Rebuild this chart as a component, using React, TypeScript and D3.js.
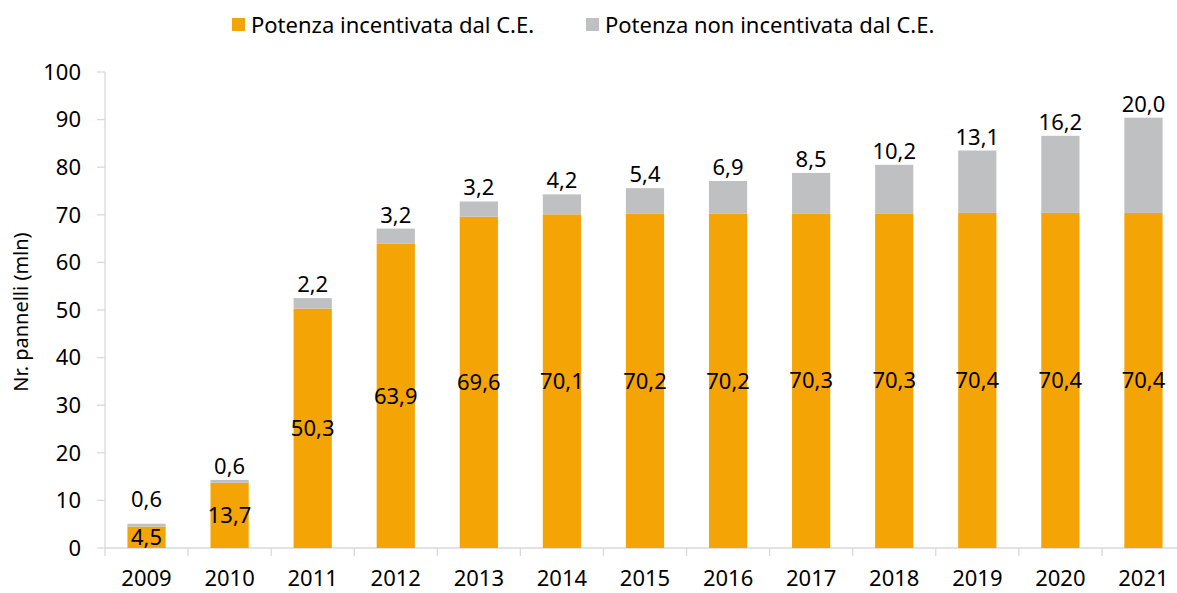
import React, { useEffect, useRef } from 'react';
import * as d3 from 'd3';

const years = ['2009', '2010', '2011', '2012', '2013', '2014', '2015', '2016', '2017', '2018', '2019', '2020', '2021'];
const incentivata = [4.5, 13.7, 50.3, 63.9, 69.6, 70.1, 70.2, 70.2, 70.3, 70.3, 70.4, 70.4, 70.4];
const nonIncentivata = [0.6, 0.6, 2.2, 3.2, 3.2, 4.2, 5.4, 6.9, 8.5, 10.2, 13.1, 16.2, 20.0];
const yTicks = [0, 10, 20, 30, 40, 50, 60, 70, 80, 90, 100];
const legendLabels = ['Potenza incentivata dal C.E.', 'Potenza non incentivata dal C.E.'];

const ORANGE = '#F4A404';
const GREY = '#BFC0C2';
const AXIS = '#D9D9D9';
const FONT = '"Noto Sans", sans-serif';

const App = () => {
  const width = 1177,
    height = 593,
    margin = { left: 105, top: 72, bottom: 45, right: -8 };

  const svgRef = useRef(null);

  useEffect(() => {
    const svg = d3.select(svgRef.current);
    svg.selectAll('*').remove();

    const x = d3.scaleBand()
      .domain(years)
      .range([margin.left, width - margin.right])
      .paddingInner(0.54)
      .paddingOuter(0.27);
    const y = d3.scaleLinear()
      .domain([0, 100])
      .range([height - margin.bottom, margin.top]);

    const step = x.step();
    const x0 = margin.left;

    // axes
    const axes = svg.append('g').attr('stroke', AXIS).attr('stroke-width', 1.3);
    axes.append('line')
      .attr('x1', x0).attr('x2', x0)
      .attr('y1', y(100)).attr('y2', y(0));
    axes.selectAll('.yt')
      .data(yTicks)
      .join('line')
      .attr('x1', x0 - 8).attr('x2', x0)
      .attr('y1', d => y(d)).attr('y2', d => y(d));
    axes.append('line')
      .attr('x1', x0).attr('x2', width)
      .attr('y1', y(0)).attr('y2', y(0));
    axes.selectAll('.xt')
      .data(d3.range(years.length + 1))
      .join('line')
      .attr('x1', i => x0 + i * step).attr('x2', i => x0 + i * step)
      .attr('y1', y(0)).attr('y2', y(0) + 8);

    // bars
    const bars = svg.append('g');
    bars.selectAll('.inc')
      .data(years)
      .join('rect')
      .attr('x', d => x(d))
      .attr('width', x.bandwidth())
      .attr('y', (d, i) => y(incentivata[i]))
      .attr('height', (d, i) => y(0) - y(incentivata[i]))
      .attr('fill', ORANGE);
    bars.selectAll('.non')
      .data(years)
      .join('rect')
      .attr('x', d => x(d))
      .attr('width', x.bandwidth())
      .attr('y', (d, i) => y(incentivata[i] + nonIncentivata[i]))
      .attr('height', (d, i) => y(incentivata[i]) - y(incentivata[i] + nonIncentivata[i]))
      .attr('fill', GREY);

    const text = svg.append('g')
      .attr('font-family', FONT)
      .attr('font-size', 22)
      .attr('fill', '#000');

    text.selectAll('.ylab')
      .data(yTicks)
      .join('text')
      .attr('x', x0 - 24)
      .attr('y', d => y(d))
      .attr('dy', '0.35em')
      .attr('text-anchor', 'end')
      .text(d => d);

    text.selectAll('.xlab')
      .data(years)
      .join('text')
      .attr('x', d => x(d) + x.bandwidth() / 2)
      .attr('y', y(0) + 30)
      .attr('dy', '0.35em')
      .attr('text-anchor', 'middle')
      .text(d => d);

    text.append('text')
      .attr('transform', `translate(28, ${(y(0) + y(100)) / 2 + 2}) rotate(-90)`)
      .attr('text-anchor', 'middle')
      .attr('font-size', 20)
      .text('Nr. pannelli (mln)');

    const fmt = v => v.toFixed(1).replace('.', ',');

    text.selectAll('.incLab')
      .data(years)
      .join('text')
      .attr('x', d => x(d) + x.bandwidth() / 2)
      .attr('y', (d, i) => y(incentivata[i] / 2))
      .attr('dy', '0.35em')
      .attr('text-anchor', 'middle')
      .text((d, i) => fmt(incentivata[i]));

    text.selectAll('.nonLab')
      .data(years)
      .join('text')
      .attr('x', d => x(d) + x.bandwidth() / 2)
      .attr('y', (d, i) => Math.min(
        y(incentivata[i] + nonIncentivata[i]) - 6,
        y(incentivata[i] / 2) - 30))
      .attr('text-anchor', 'middle')
      .text((d, i) => fmt(nonIncentivata[i]));

    // legend
    const legend = svg.append('g').attr('font-family', FONT).attr('font-size', 22);
    const lx = [232, 586];
    const colors = [ORANGE, GREY];
    legendLabels.forEach((l, i) => {
      legend.append('rect')
        .attr('x', lx[i]).attr('y', 18)
        .attr('width', 13).attr('height', 13)
        .attr('fill', colors[i]);
      legend.append('text')
        .attr('x', lx[i] + 19).attr('y', 25)
        .attr('dy', '0.35em')
        .text(l);
    });
  }, []);

  return (
    <svg ref={svgRef} width={width} height={height}
      style={{ position: 'absolute', left: 0, top: 0, background: '#fff' }}></svg>
  );
};

export default App;
